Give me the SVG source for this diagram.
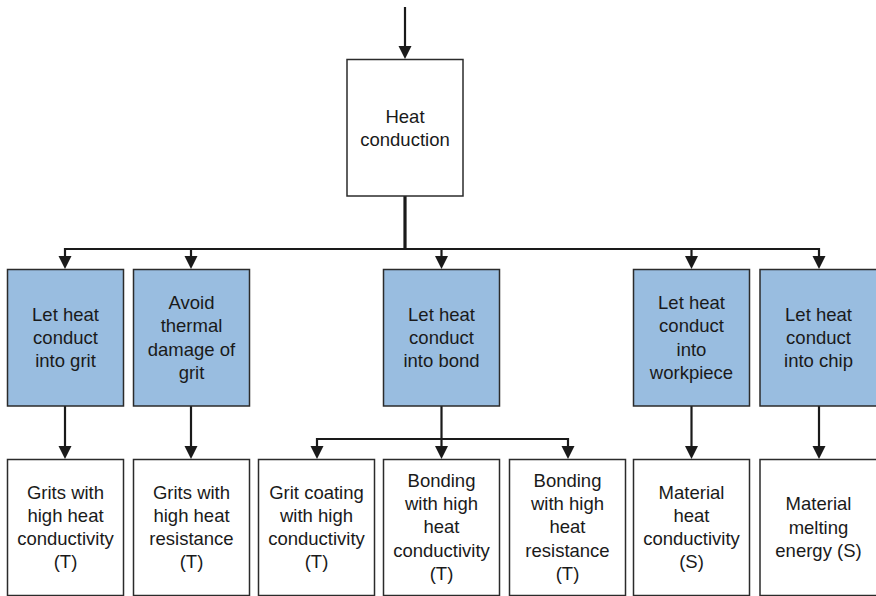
<svg xmlns="http://www.w3.org/2000/svg" width="876" height="596" viewBox="0 0 876 596">
  <defs>
    <style>
      .box { stroke: #2b2b2b; stroke-width: 1.5; }
      .plain { fill: #ffffff; }
      .blue { fill: #99bde0; }
      .label { font-family: "Liberation Sans", Arial, Helvetica, sans-serif; font-size: 18.5px; fill: #1a1a1a; text-anchor: middle; }
      .wire { fill: none; stroke: #1a1a1a; stroke-width: 2.2; }
      .trunk { fill: none; stroke: #1a1a1a; stroke-width: 3.2; }
      .head { fill: #1a1a1a; }
    </style>
    <!-- downward arrowhead, tip at origin -->
    <path id="ah" class="head" d="M0,0 L-6.5,-13 L6.5,-13 Z"/>
  </defs>

  <!-- connectors -->
  <g id="connectors">
    <line class="wire" x1="405" y1="7" x2="405" y2="50"/>
    <use href="#ah" x="405" y="59"/>
    <line class="trunk" x1="405" y1="196" x2="405" y2="249"/>
    <line class="wire" x1="64" y1="249" x2="820" y2="249"/>
    <line class="wire" x1="65" y1="248" x2="65" y2="260"/>
    <use href="#ah" x="65" y="269"/>
    <line class="wire" x1="191" y1="248" x2="191" y2="260"/>
    <use href="#ah" x="191" y="269"/>
    <line class="wire" x1="441.5" y1="248" x2="441.5" y2="260"/>
    <use href="#ah" x="441.5" y="269"/>
    <line class="wire" x1="691.5" y1="248" x2="691.5" y2="260"/>
    <use href="#ah" x="691.5" y="269"/>
    <line class="wire" x1="819" y1="248" x2="819" y2="260"/>
    <use href="#ah" x="819" y="269"/>

    <line class="wire" x1="65" y1="406" x2="65" y2="450"/>
    <use href="#ah" x="65" y="459"/>
    <line class="wire" x1="191" y1="406" x2="191" y2="450"/>
    <use href="#ah" x="191" y="459"/>
    <line class="wire" x1="691.5" y1="406" x2="691.5" y2="450"/>
    <use href="#ah" x="691.5" y="459"/>
    <line class="wire" x1="819" y1="406" x2="819" y2="450"/>
    <use href="#ah" x="819" y="459"/>

    <line class="wire" x1="441.5" y1="406" x2="441.5" y2="450"/>
    <line class="wire" x1="316" y1="439" x2="568.5" y2="439"/>
    <line class="wire" x1="317" y1="438" x2="317" y2="450"/>
    <use href="#ah" x="317" y="459"/>
    <use href="#ah" x="441.5" y="459"/>
    <line class="wire" x1="568" y1="438" x2="568" y2="450"/>
    <use href="#ah" x="568" y="459"/>
  </g>

  <!-- root -->
  <g id="heat-conduction">
    <rect class="box plain" x="347" y="59.5" width="116" height="136.5"/>
    <text class="label" x="405" y="122.5">Heat</text>
    <text class="label" x="405" y="145.8">conduction</text>
  </g>

  <!-- functions -->
  <g id="into-grit">
    <rect class="box blue" x="7.5" y="269.5" width="116" height="136.5"/>
    <text class="label" x="65.5" y="320.7">Let heat</text>
    <text class="label" x="65.5" y="344">conduct</text>
    <text class="label" x="65.5" y="367.3">into grit</text>
  </g>
  <g id="avoid-damage">
    <rect class="box blue" x="133.5" y="269.5" width="116" height="136.5"/>
    <text class="label" x="191.5" y="309">Avoid</text>
    <text class="label" x="191.5" y="332.3">thermal</text>
    <text class="label" x="191.5" y="355.6">damage of</text>
    <text class="label" x="191.5" y="378.9">grit</text>
  </g>
  <g id="into-bond">
    <rect class="box blue" x="383.5" y="269.5" width="116" height="136.5"/>
    <text class="label" x="441.5" y="320.7">Let heat</text>
    <text class="label" x="441.5" y="344">conduct</text>
    <text class="label" x="441.5" y="367.3">into bond</text>
  </g>
  <g id="into-workpiece">
    <rect class="box blue" x="633.5" y="269.5" width="116" height="136.5"/>
    <text class="label" x="691.5" y="309">Let heat</text>
    <text class="label" x="691.5" y="332.3">conduct</text>
    <text class="label" x="691.5" y="355.6">into</text>
    <text class="label" x="691.5" y="378.9">workpiece</text>
  </g>
  <g id="into-chip">
    <rect class="box blue" x="760" y="269.5" width="117" height="136.5"/>
    <text class="label" x="818.5" y="320.7">Let heat</text>
    <text class="label" x="818.5" y="344">conduct</text>
    <text class="label" x="818.5" y="367.3">into chip</text>
  </g>

  <!-- solutions -->
  <g id="grits-conductivity">
    <rect class="box plain" x="7.5" y="459.5" width="116" height="136"/>
    <text class="label" x="65.5" y="498.5">Grits with</text>
    <text class="label" x="65.5" y="521.8">high heat</text>
    <text class="label" x="65.5" y="545.1">conductivity</text>
    <text class="label" x="65.5" y="568.4">(T)</text>
  </g>
  <g id="grits-resistance">
    <rect class="box plain" x="133.5" y="459.5" width="116" height="136"/>
    <text class="label" x="191.5" y="498.5">Grits with</text>
    <text class="label" x="191.5" y="521.8">high heat</text>
    <text class="label" x="191.5" y="545.1">resistance</text>
    <text class="label" x="191.5" y="568.4">(T)</text>
  </g>
  <g id="grit-coating">
    <rect class="box plain" x="258.5" y="459.5" width="116" height="136"/>
    <text class="label" x="316.5" y="498.5">Grit coating</text>
    <text class="label" x="316.5" y="521.8">with high</text>
    <text class="label" x="316.5" y="545.1">conductivity</text>
    <text class="label" x="316.5" y="568.4">(T)</text>
  </g>
  <g id="bonding-conductivity">
    <rect class="box plain" x="383.5" y="459.5" width="116" height="136"/>
    <text class="label" x="441.5" y="486.8">Bonding</text>
    <text class="label" x="441.5" y="510.1">with high</text>
    <text class="label" x="441.5" y="533.4">heat</text>
    <text class="label" x="441.5" y="556.7">conductivity</text>
    <text class="label" x="441.5" y="580">(T)</text>
  </g>
  <g id="bonding-resistance">
    <rect class="box plain" x="509.5" y="459.5" width="116" height="136"/>
    <text class="label" x="567.5" y="486.8">Bonding</text>
    <text class="label" x="567.5" y="510.1">with high</text>
    <text class="label" x="567.5" y="533.4">heat</text>
    <text class="label" x="567.5" y="556.7">resistance</text>
    <text class="label" x="567.5" y="580">(T)</text>
  </g>
  <g id="material-conductivity">
    <rect class="box plain" x="633.5" y="459.5" width="116" height="136"/>
    <text class="label" x="691.5" y="498.5">Material</text>
    <text class="label" x="691.5" y="521.8">heat</text>
    <text class="label" x="691.5" y="545.1">conductivity</text>
    <text class="label" x="691.5" y="568.4">(S)</text>
  </g>
  <g id="material-melting">
    <rect class="box plain" x="760" y="459.5" width="117" height="136"/>
    <text class="label" x="818.5" y="510.2">Material</text>
    <text class="label" x="818.5" y="533.5">melting</text>
    <text class="label" x="818.5" y="556.8">energy (S)</text>
  </g>
</svg>
